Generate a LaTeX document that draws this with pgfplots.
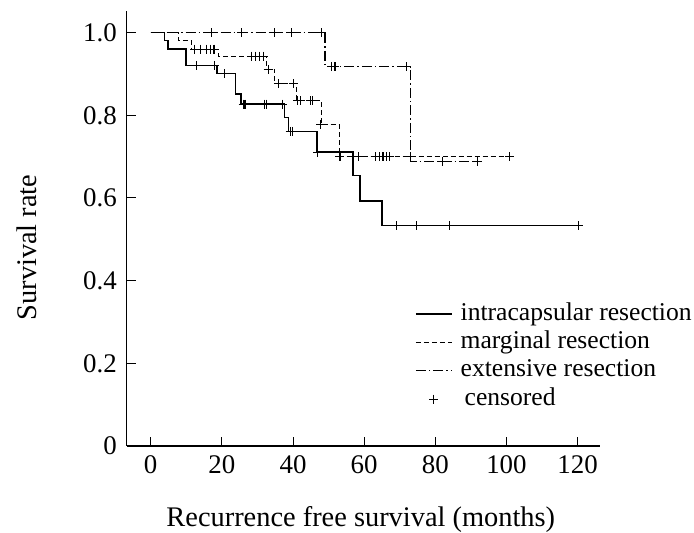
\documentclass[border=0pt]{standalone}
\usepackage{fontspec}
\setmainfont{Liberation Serif}
\usepackage{pgfplots}
\pgfplotsset{compat=1.18}
\begin{document}
\begin{tikzpicture}
\path[use as bounding box] (0,0) rectangle (694bp,533bp);
\begin{axis}[
 at={(126.7bp,87bp)}, anchor=south west,
 scale only axis, width=473.3bp, height=435.3bp,
 xmin=-6.75, xmax=126.3, ymin=0, ymax=1.053,
 axis x line*=bottom, axis y line*=left,
 axis line style={line width=1.1bp},
 tick align=inside, major tick length=9bp,
 tick style={line width=1bp, black},
 xtick={0,20,40,60,80,100,120}, xticklabels={0,20,40,60,80,100,120},
 ytick={0,0.2,0.4,0.6,0.8,1.0}, yticklabels={0,0.2,0.4,0.6,0.8,1.0},
 /pgf/number format/assume math mode=true,
 ticklabel style={font=\fontsize{27}{30}\selectfont},
 x tick label style={inner sep=0pt, anchor=north, yshift=-9bp},
 y tick label style={inner sep=0pt, anchor=east, xshift=-9.7bp},
 xlabel={Recurrence free survival (months)},
 ylabel={Survival rate},
 label style={font=\fontsize{28.5}{32}\selectfont},
 xlabel style={at={(axis description cs:0.4946,-0.186)}, anchor=base, inner sep=0pt},
 ylabel style={at={(axis description cs:-0.190,0.456)}, anchor=base, inner sep=0pt},
 legend style={at={(axis description cs:0.609,0.331)}, anchor=north west, draw=none, fill=none, inner sep=0pt,
   font=\fontsize{25.7}{28}\selectfont, row sep=4.7bp, column sep=8bp,
   nodes={inner sep=0pt, text height=18bp, text depth=5.7bp}},
 legend cell align=left,
 legend image code/.code={\draw[mark repeat=2,mark phase=2,#1] plot coordinates {(0bp,0bp) (18bp,0bp) (36bp,0bp)};},
 clip=false,
]
% intracapsular
\addplot[const plot, line width=1.5bp, black] coordinates {
(0,1.0) (3.9,0.981) (4.9,0.960) (9.9,0.921) (18.7,0.901) (23.9,0.852) (25.4,0.827)
(37.6,0.795) (38.8,0.761) (46.8,0.711) (56.8,0.654) (58.9,0.593) (65,0.533) (120.2,0.533)};
% marginal
\addplot[const plot, line width=1.2bp, black, dash pattern=on 5bp off 3bp] coordinates {
(0,1.0) (7.7,0.981) (11.5,0.960) (19,0.943) (32.6,0.910) (34.9,0.876) (41,0.835)
(47.9,0.777) (53,0.700) (101.5,0.700)};
% extensive
\addplot[const plot, line width=1.2bp, black, dash pattern=on 10bp off 3bp on 1.5bp off 3bp] coordinates {
(0,1.0) (49,0.918) (73,0.688) (92,0.688)};
% censored marks
\addplot[only marks, mark=+, mark size=4.5bp, line width=1.1bp, black, forget plot] coordinates {
(12.9,0.921) (18,0.921) (20.8,0.901) (26,0.827) (26.5,0.827) (32.1,0.827) (32.6,0.827)
(37.1,0.827) (39.2,0.761) (39.8,0.761) (47,0.711) (69,0.533) (74.8,0.533) (83.9,0.533) (120.2,0.533)};
\addplot[only marks, mark=+, mark size=4.5bp, line width=1.1bp, black, forget plot] coordinates {
(12.4,0.960) (14,0.960) (15.7,0.960) (16.8,0.960) (17.8,0.960)
(28.3,0.943) (29.5,0.943) (30.7,0.943) (31.6,0.943) (33,0.910) (35.9,0.876) (40.1,0.876)
(41.3,0.835) (42,0.835) (44.8,0.835) (45.5,0.835) (47.8,0.777) (53.2,0.700) (58.3,0.700)
(63.1,0.700) (64.4,0.700) (65.3,0.700) (66.3,0.700) (67.2,0.700) (73,0.700) (100.9,0.700)};
\addplot[only marks, mark=+, mark size=4.5bp, line width=1.1bp, black, forget plot] coordinates {
(17.1,1.0) (25.5,1.0) (34.9,1.0) (39.6,1.0) (48,1.0) (50.9,0.918) (51.8,0.918) (71.8,0.918)
(81.9,0.688) (91.9,0.688)};
\addlegendimage{only marks, mark=+, mark size=4.5bp, line width=1.1bp, black}
\legend{intracapsular resection, marginal resection, extensive resection, \hspace*{4bp}censored}
\end{axis}
\end{tikzpicture}
\end{document}
